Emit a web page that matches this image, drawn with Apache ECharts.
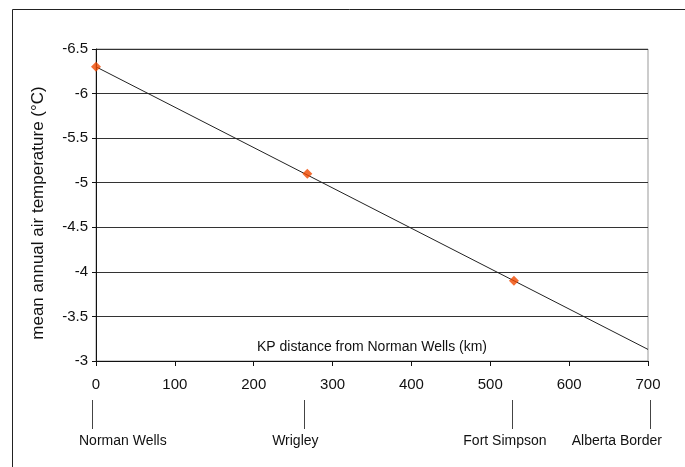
<!DOCTYPE html>
<html>
<head>
<meta charset="utf-8">
<script src="https://cdn.jsdelivr.net/npm/echarts@6/dist/echarts.min.js"></script>
<style>
  html, body { margin: 0; padding: 0; background: #fff; }
  #chart { width: 685px; height: 467px; }
</style>
</head>
<body>
<div id="chart"></div>
<script>
// ---- data ----
var stationNames = ['Norman Wells', 'Wrigley', 'Fort Simpson'];
var stationKm = [0, 268, 530];
var stationTemp = [-6.3, -5.1, -3.9];

var trendKm = [0, 700];
var trendTemp = [-6.3, -3.13];

var placeNames = ['Norman Wells', 'Wrigley', 'Fort Simpson', 'Alberta Border'];
var placeKm = [0, 268, 530, 700];

var yTicks = { min: -6.5, max: -3, step: 0.5 };
var xTicks = { min: 0, max: 700, step: 100 };

// label / marker placement styles (not data)
var placeAlign = ['left', 'center', 'center', 'right'];
var placeDx = [-17, -12, -9, 14];
var tickDx = [-4, -3, -2, 2];

var FONT = 'Liberation Sans, Arial, sans-serif';

var chart = echarts.init(document.getElementById('chart'), null, { renderer: 'canvas' });

var option = {
  animation: false,
  backgroundColor: '#ffffff',
  graphic: [{
    type: 'rect',
    shape: { x: 12.5, y: 9.5, width: 720, height: 520 },
    style: { fill: 'none', stroke: '#222', lineWidth: 1 },
    silent: true,
    z: -10
  }],
  grid: {
    left: 96, right: 37, top: 49, bottom: 106,
    show: true, borderColor: '#999', borderWidth: 1, backgroundColor: 'transparent'
  },
  xAxis: {
    type: 'value',
    min: xTicks.min, max: xTicks.max, interval: xTicks.step,
    name: 'KP distance from Norman Wells (km)',
    nameLocation: 'middle',
    nameGap: -7,
    nameMoveOverlap: false,
    nameTextStyle: { fontFamily: FONT, fontSize: 14, color: '#111', verticalAlign: 'bottom' },
    axisLine: { show: true, lineStyle: { color: '#111', width: 1 } },
    axisTick: { show: true, length: 5, lineStyle: { color: '#111' } },
    axisLabel: { fontFamily: FONT, fontSize: 15, color: '#111', margin: 16 },
    splitLine: { show: false }
  },
  yAxis: {
    type: 'value',
    inverse: true,
    min: yTicks.min, max: yTicks.max, interval: yTicks.step,
    name: 'mean annual air temperature (°C)',
    nameLocation: 'middle',
    nameRotate: 90,
    nameGap: 49,
    nameTextStyle: { fontFamily: FONT, fontSize: 17, color: '#111', padding: [0, 16, 0, 0] },
    axisLine: { show: true, lineStyle: { color: '#111', width: 1 } },
    axisTick: { show: true, length: 4, lineStyle: { color: '#111' } },
    axisLabel: { fontFamily: FONT, fontSize: 15, color: '#111', margin: 8 },
    splitLine: { show: true, lineStyle: { color: '#333', width: 1 } }
  },
  series: [
    {
      type: 'line',
      data: trendKm.map(function (k, i) { return [k, trendTemp[i]]; }),
      symbol: 'none',
      lineStyle: { color: '#222', width: 1 },
      z: 3
    },
    {
      type: 'scatter',
      name: 'stations',
      data: stationKm.map(function (k, i) { return { value: [k, stationTemp[i]], name: stationNames[i] }; }),
      symbol: 'diamond',
      symbolSize: 10,
      itemStyle: { color: '#f04800' },
      z: 4
    },
    {
      type: 'custom',
      clip: false,
      silent: true,
      data: placeKm.map(function (k, i) { return [k, i]; }),
      renderItem: function (params, api) {
        var i = api.value(1);
        var p = api.coord([api.value(0), yTicks.max]);
        var x = Math.round(p[0] + tickDx[i]) + 0.5;
        return {
          type: 'group',
          children: [
            {
              type: 'line',
              shape: { x1: x, y1: p[1] + 39, x2: x, y2: p[1] + 68 },
              style: { stroke: '#444', lineWidth: 1 }
            },
            {
              type: 'text',
              style: {
                text: placeNames[i],
                x: p[0] + placeDx[i],
                y: p[1] + 80,
                align: placeAlign[i],
                verticalAlign: 'middle',
                fontFamily: FONT,
                fontSize: 14,
                fill: '#111'
              }
            }
          ]
        };
      }
    }
  ]
};

chart.setOption(option);
</script>
</body>
</html>
